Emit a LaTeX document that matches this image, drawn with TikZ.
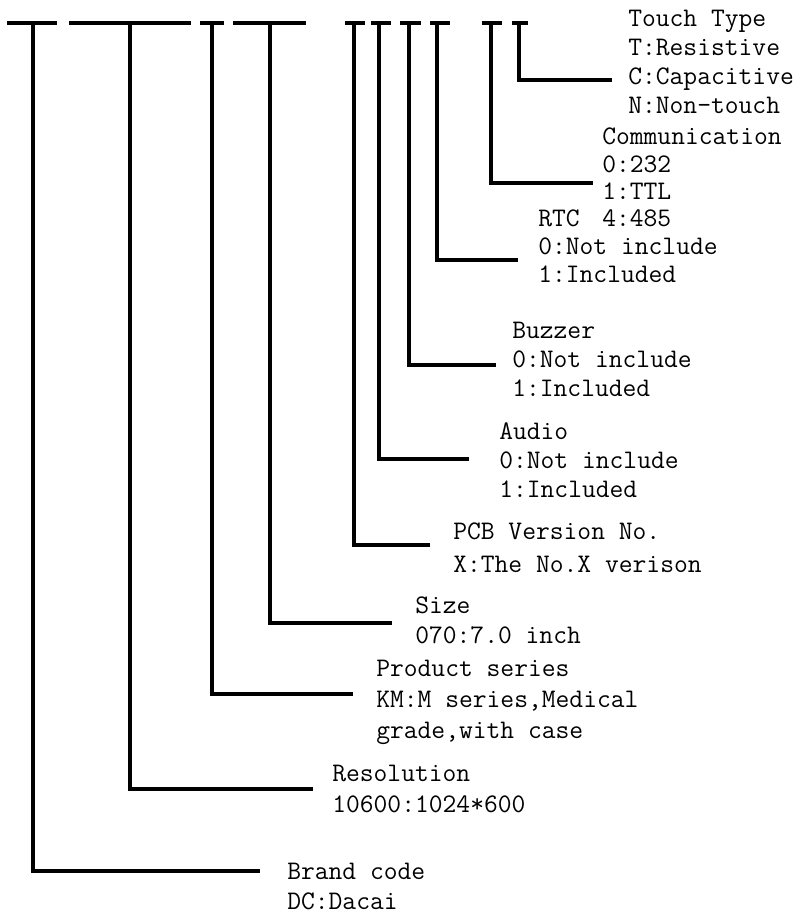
\documentclass[tikz,border=0pt]{standalone}
\usepackage{tikz}

\tikzset{
  bar/.style={line width=2.8pt},
  leg/.style={line width=2.3pt},
  lbl/.style={font=\fontsize{20.1}{#1}\ttfamily, align=left, inner sep=0pt, anchor=north west},
  lbl/.default=21.75pt
}

\begin{document}
\begin{tikzpicture}[x=0.75pt, y=-0.75pt]
\useasboundingbox (0,0) rectangle (795,915);

% code fields: name / bar left / bar mid / bar right / leg end x / leg end y
\foreach \f/\l/\m/\r/\ex/\ey in {brand/7/33/57/260/871, res/69/130/191/313/789,
    series/200/212/224/353/694, size/233/270/306/392/623, pcb/345/354/365/430/545,
    audio/371/379/391/469/459, buzz/400/409/421/496/365, rtc/430/437/450/518/260,
    comm/482/491/502/593/183, touch/512/519/528/612/80} {
  \coordinate (\f-top) at (\m,23);
  \coordinate (\f-end) at (\ex,\ey);
  \draw[bar] (\l,23) -- (\r,23);
  \draw[leg] (\f-top) |- (\f-end);
}

% labels
\node[lbl] (touch) at (628,10) {Touch Type\\T:Resistive\\C:Capacitive\\N:Non-touch};
\node[lbl=20.5pt] (comm) at (602,128) {Communication\\0:232\\1:TTL\\4:485};
\node[lbl=21pt] (rtc) at (538,210) {RTC\\0:Not include\\1:Included};
\node[lbl] (buzz) at (512,322) {Buzzer\\0:Not include\\1:Included};
\node[lbl=22pt] (audio) at (499,422) {Audio\\0:Not include\\1:Included};
\node[lbl=24.75pt] (pcb) at (453,523) {PCB Version No.\\X:The No.X verison};
\node[lbl=22.5pt] (size) at (415,597) {Size\\070:7.0 inch};
\node[lbl=23.25pt] (series) at (376,660) {Product series\\KM:M series,Medical\\grade,with case};
\node[lbl=23.25pt] (res) at (332,765) {Resolution\\10600:1024*600};
\node[lbl=22.5pt] (brand) at (287,863) {Brand code\\DC:Dacai};
\end{tikzpicture}
\end{document}
